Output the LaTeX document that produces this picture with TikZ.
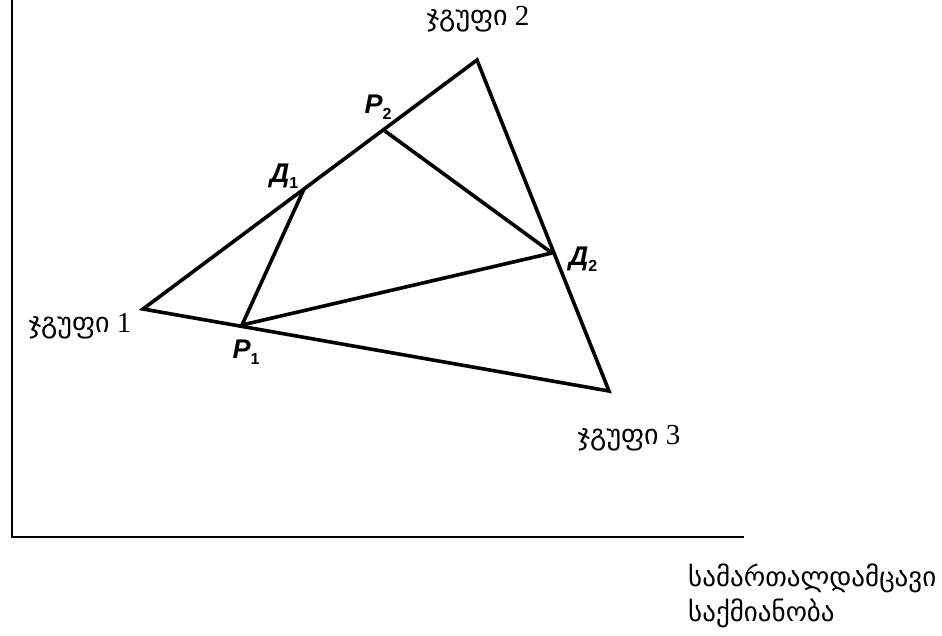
\documentclass[tikz,border=0pt]{standalone}
\usepackage{fontspec}
\setmainfont{Liberation Serif}
\newfontfamily\geo{DejaVu Sans}
\newfontfamily\lab{Liberation Sans}
\newcommand{\gw}[1]{{\geo\fontsize{28}{30}\selectfont #1}}
\newcommand{\sbs}[1]{\raisebox{-0.45ex}{\fontsize{16}{18}\selectfont\upshape #1}}
\begin{document}
\begin{tikzpicture}[x=1pt,y=-1pt,
  tri/.style={line width=3.6pt,line join=miter},
  axis/.style={line width=2.8pt},
  grp/.style={font=\fontsize{29}{32}\selectfont, inner sep=0pt},
  axl/.style={font=\geo\fontsize{27}{30}\selectfont, inner sep=0pt, anchor=west},
  pt/.style={font=\lab\fontsize{27}{30}\selectfont\bfseries\itshape, inner sep=0pt}]
\useasboundingbox (0,0) rectangle (942,635);
\coordinate (top) at (12,0);
\coordinate (org) at (12,537);
\coordinate (xend) at (744,537);
\draw[axis] (top) -- (org) -- (xend);
\coordinate (G1) at (143,309);
\coordinate (G2) at (477,60);
\coordinate (G3) at (609,391);
\coordinate (D1) at (304,189);
\coordinate (P2) at (385,131);
\coordinate (D2) at (552,253);
\coordinate (P1) at (242,325);
\draw[tri] (G1) -- (G2) -- (G3) -- cycle;
\draw[tri] (D1) -- (P1) -- (D2) -- (P2);
\node[grp] (g1) at (80,326) {\gw{ჯგუფი} 1};
\node[grp] (g2) at (478,19) {\gw{ჯგუფი} 2};
\node[grp] (g3) at (629,438) {\gw{ჯგუფი} 3};
\node[axl] (ax1) at (688,578) {სამართალდამცავი};
\node[axl] (ax2) at (688,613) {საქმიანობა};
\node[pt] (lP1) at (246,352) {P\sbs{1}};
\node[pt] (lP2) at (378,107) {P\sbs{2}};
\node[pt] (lD1) at (284,176) {Д\sbs{1}};
\node[pt] (lD2) at (583,259) {Д\sbs{2}};
\end{tikzpicture}
\end{document}
